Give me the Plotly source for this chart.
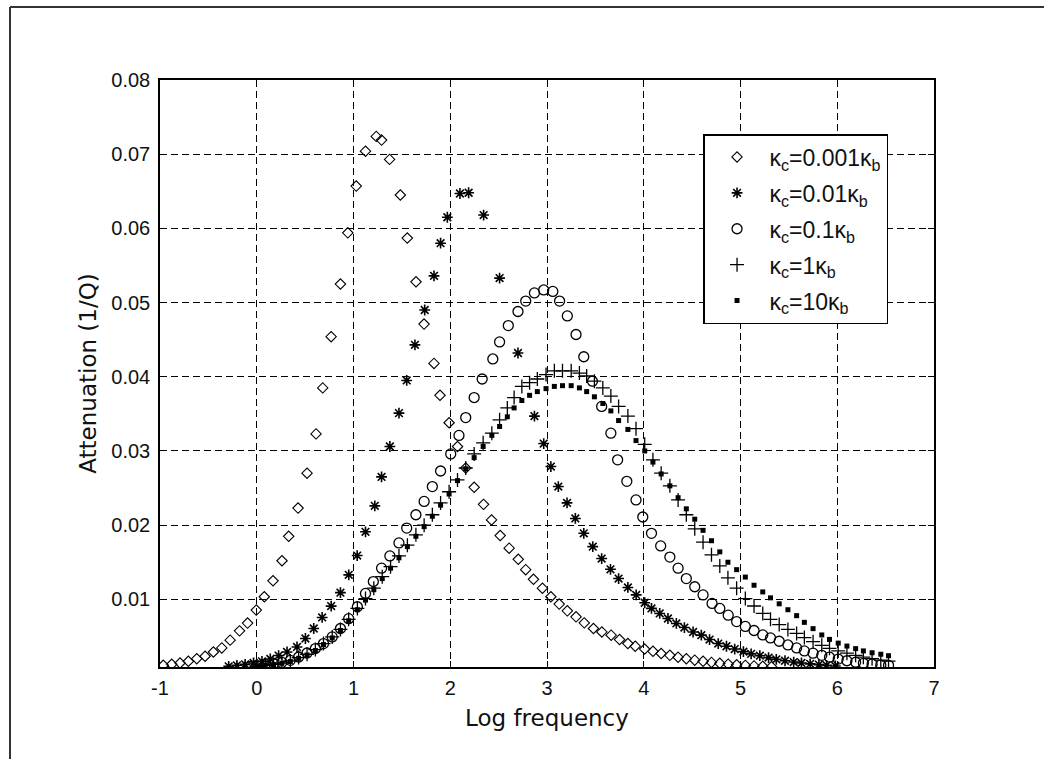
import plotly.graph_objects as go

# ---------------- data (attenuation in units of 1e-3) ----------------
SCALE = 1e-3

x_k0001 = [-0.966,-0.879,-0.793,-0.707,-0.62,-0.534,-0.448,-0.361,-0.275,-0.178,
           -0.095,-0.005,0.078,0.168,0.261,0.33,0.427,0.52,0.613,0.682,
           0.769,0.865,0.941,1.028,1.124,1.235,1.29,1.373,1.484,1.556,
           1.646,1.729,1.832,1.894,1.988,2.075,2.16,2.247,2.344,2.427,
           2.516,2.609,2.703,2.78,2.86,2.953,3.04,3.126,3.21,3.30,
           3.385,3.48,3.567,3.663,3.75,3.836,3.912,4.009,4.095,4.18,
           4.27,4.355,4.44,4.527,4.613,4.70,4.786,4.873,4.96,5.05,
           5.14,5.23,5.32]
y_k0001 = [1.11,1.24,1.42,1.65,2.0,2.33,2.9,3.45,4.5,5.75,
           6.8,8.55,10.35,12.5,15.2,18.5,22.3,27.0,32.3,38.5,
           45.4,52.5,59.4,65.7,70.4,72.4,71.9,69.3,64.5,58.7,
           52.8,47.1,41.8,37.5,33.8,30.6,27.7,25.1,22.8,20.7,
           18.6,16.9,15.4,14.0,12.7,11.5,10.35,9.36,8.45,7.64,
           6.83,6.07,5.6,5.17,4.58,4.04,3.68,3.3,3.0,2.7,
           2.45,2.2,2.0,1.8,1.65,1.5,1.38,1.27,1.17,1.1,
           1.03,0.97,0.92]

x_k001 = [-0.29,-0.205,-0.12,-0.033,0.054,0.14,0.226,0.313,0.416,0.503,
          0.589,0.676,0.769,0.865,0.951,1.038,1.124,1.22,1.29,1.376,
          1.47,1.55,1.635,1.736,1.832,1.90,1.97,2.10,2.19,2.345,
          2.51,2.70,2.87,2.966,3.04,3.117,3.207,3.293,3.38,3.473,
          3.565,3.656,3.74,3.836,3.922,4.01,4.08,4.165,4.25,4.337,
          4.42,4.51,4.595,4.68,4.77,4.855,4.94,5.03,5.11,5.2,
          5.29,5.37,5.46,5.55,5.63,5.72,5.81,5.89,5.98]
y_k001 = [0.97,1.11,1.24,1.42,1.65,1.96,2.42,2.91,3.58,4.72,
          6.07,7.56,9.09,10.9,13.3,15.9,19.1,22.6,26.5,30.6,
          35.1,39.5,44.3,49.0,53.6,58.0,61.5,64.7,64.8,61.8,
          53.3,43.2,34.7,31.0,27.9,25.2,23.0,20.9,18.9,17.1,
          15.5,14.05,12.8,11.6,10.6,9.54,8.78,8.1,7.42,6.75,
          6.2,5.6,5.17,4.58,4.04,3.68,3.3,2.95,2.65,2.4,
          2.15,1.92,1.72,1.55,1.42,1.3,1.2,1.1,1.02]

x_k01 = [-0.067,0.002,0.088,0.174,0.26,0.347,0.433,0.52,0.606,0.69,
         0.78,0.865,0.95,1.04,1.124,1.205,1.29,1.376,1.47,1.55,
         1.645,1.73,1.815,1.90,2.005,2.09,2.16,2.247,2.33,2.44,
         2.51,2.60,2.70,2.78,2.87,2.966,3.06,3.13,3.21,3.30,
         3.38,3.47,3.565,3.66,3.73,3.825,3.92,3.99,4.08,4.175,
         4.27,4.355,4.44,4.527,4.613,4.706,4.786,4.873,4.96,5.05,
         5.14,5.23,5.31,5.40,5.49,5.58,5.66,5.75,5.84,5.92,
         6.01,6.10,6.19,6.27,6.36,6.45,6.53]
y_k01 = [0.95,1.07,1.2,1.34,1.51,1.78,2.23,2.77,3.37,4.04,
         4.94,6.07,7.4,9.0,10.8,12.4,14.2,15.85,17.6,19.6,
         21.4,23.2,25.2,27.3,29.6,32.1,34.5,37.2,39.7,42.4,
         44.7,46.9,48.8,50.2,51.3,51.7,51.5,50.2,48.2,45.7,
         42.7,39.4,36.0,32.4,28.8,25.9,23.4,21.1,18.9,17.2,
         15.7,14.2,12.8,11.7,10.6,9.45,8.78,7.87,7.0,6.35,
         5.8,5.2,4.8,4.35,3.85,3.45,3.05,2.75,2.45,2.2,
         1.95,1.72,1.52,1.38,1.26,1.16,1.1]

x_k1 = [0.002,0.088,0.174,0.26,0.347,0.433,0.52,0.606,0.69,0.78,
        0.865,0.95,1.04,1.124,1.21,1.297,1.383,1.47,1.557,1.645,
        1.73,1.815,1.90,1.988,2.075,2.16,2.247,2.34,2.43,2.51,
        2.59,2.66,2.74,2.82,2.90,2.99,3.076,3.16,3.25,3.335,
        3.41,3.49,3.577,3.66,3.74,3.836,3.92,4.01,4.095,4.18,
        4.27,4.355,4.44,4.527,4.613,4.70,4.786,4.87,4.96,5.05,
        5.14,5.23,5.31,5.40,5.49,5.58,5.66,5.75,5.84,5.92,
        6.01,6.10,6.19,6.27,6.36,6.45,6.53]
y_k1 = [0.97,1.11,1.24,1.42,1.69,2.15,2.6,3.23,4.04,4.94,
        5.94,7.3,8.78,10.1,11.5,13.05,14.4,15.85,17.3,18.7,
        20.0,21.4,23.0,24.5,26.1,27.7,29.6,31.1,32.4,34.2,
        35.8,37.2,38.7,39.2,39.7,40.3,40.8,40.8,40.8,40.5,
        40.1,39.4,38.5,37.4,36.0,34.7,33.0,30.9,28.8,27.0,
        25.3,23.4,21.4,19.5,17.7,16.0,14.5,12.9,11.5,10.1,
        9.1,8.1,7.3,6.6,5.95,5.4,4.85,4.3,3.8,3.4,
        3.05,2.75,2.45,2.2,2.0,1.82,1.68]

x_k10 = list(x_k1)
y_k10 = [0.95,1.08,1.2,1.38,1.62,2.05,2.5,3.1,3.9,4.8,
         5.8,7.1,8.6,9.9,11.3,12.8,14.2,15.6,17.1,18.5,
         19.8,21.2,22.7,24.2,26.0,27.6,29.1,30.6,32.1,33.3,
         34.6,35.8,36.8,37.5,38.0,38.4,38.7,38.8,38.8,38.5,
         38.0,37.3,36.4,35.4,34.1,32.9,31.4,30.0,28.5,26.9,
         25.3,23.7,22.2,20.8,19.3,17.9,16.4,15.0,14.0,13.0,
         11.9,11.0,10.2,9.4,8.6,7.8,6.9,6.05,5.2,4.6,
         4.1,3.7,3.35,3.05,2.8,2.6,2.4]

series_names = ["κ<sub>c</sub>=0.001κ<sub>b</sub>", "κ<sub>c</sub>=0.01κ<sub>b</sub>",
                "κ<sub>c</sub>=0.1κ<sub>b</sub>", "κ<sub>c</sub>=1κ<sub>b</sub>",
                "κ<sub>c</sub>=10κ<sub>b</sub>"]
x_ticks = [-1, 0, 1, 2, 3, 4, 5, 6, 7]
x_ticktext = ["-1", "0", "1", "2", "3", "4", "5", "6", "7"]
y_ticks = [0.01, 0.02, 0.03, 0.04, 0.05, 0.06, 0.07, 0.08]
y_ticktext = ["0.01", "0.02", "0.03", "0.04", "0.05", "0.06", "0.07", "0.08"]

# ---------------- figure ----------------
xs = [x_k0001, x_k001, x_k01, x_k1, x_k10]
ys = [y_k0001, y_k001, y_k01, y_k1, y_k10]
styles = [
    dict(symbol="diamond-open", size=8, line=dict(width=1.1, color="black")),
    dict(symbol="asterisk-open", size=9, line=dict(width=1.6, color="black")),
    dict(symbol="circle-open", size=10, line=dict(width=1.3, color="black")),
    dict(symbol="cross-thin-open", size=10, line=dict(width=1.3, color="black")),
    dict(symbol="square", size=5, line=dict(width=0, color="black")),
]

fig = go.Figure()
for i in range(5):
    fig.add_trace(go.Scatter(
        x=xs[i], y=[v * SCALE for v in ys[i]], mode="markers",
        name=series_names[i], legendgroup=f"g{i}",
        marker=dict(color="black", **styles[i]),
    ))

FONT = "Liberation Sans, Arial, sans-serif"
axis_common = dict(
    showgrid=True, gridcolor="black", gridwidth=1, griddash="7px,4px",
    showline=True, linecolor="black", linewidth=1.5, mirror="ticks",
    ticks="inside", ticklen=6, tickcolor="black", tickwidth=1,
    zeroline=False, tickfont=dict(family=FONT, size=20, color="#111111"),
)

fig.update_layout(
    width=1044, height=759,
    margin=dict(l=160, r=110, t=80, b=92, autoexpand=False),
    paper_bgcolor="white", plot_bgcolor="white",
    xaxis=dict(range=[-1, 7], tickvals=x_ticks, ticktext=x_ticktext, **axis_common,
               ticklabelstandoff=2,
               title=dict(text="Log frequency", standoff=12,
                          font=dict(family="DejaVu Sans, sans-serif", size=23, color="#111111"))),
    yaxis=dict(range=[0.00088, 0.08], tickvals=y_ticks, ticktext=y_ticktext, **axis_common,
               ticklabelstandoff=4,
               title=dict(text="Attenuation (1/Q)", standoff=8,
                          font=dict(family="DejaVu Sans, sans-serif", size=23, color="#111111"))),
    legend=dict(x=0.7016, y=0.908, xanchor="left", yanchor="top",
                bordercolor="black", borderwidth=1.5, bgcolor="white",
                font=dict(family=FONT, size=23, color="#111111"),
                tracegroupgap=3, itemwidth=55, itemsizing="trace"),
    showlegend=True,
)

# outer figure frame (top and left edges visible)
fig.add_shape(type="line", xref="paper", yref="paper",
              x0=(10 - 160) / 774, x1=(1050 - 160) / 774,
              y0=(667 - 7) / 587, y1=(667 - 7) / 587,
              line=dict(color="#333333", width=2))
fig.add_shape(type="line", xref="paper", yref="paper",
              x0=(10 - 160) / 774, x1=(10 - 160) / 774,
              y0=(667 - 7) / 587, y1=(667 - 770) / 587,
              line=dict(color="#333333", width=2))

fig.write_html("out.html")
